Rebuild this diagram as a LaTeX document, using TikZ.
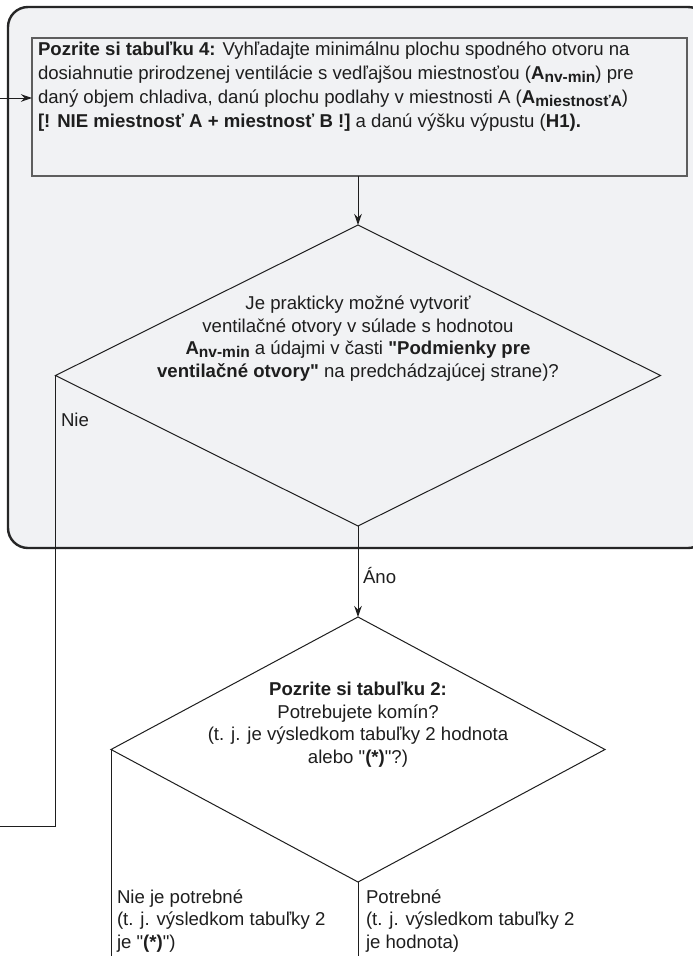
\documentclass[tikz,border=0pt]{standalone}
\usepackage{fontspec}
\setmainfont{Liberation Sans}
\usetikzlibrary{shapes.geometric,arrows.meta}
\definecolor{boxfill}{HTML}{F1F2F4}
\definecolor{boxline}{HTML}{262626}
\definecolor{rectline}{HTML}{5E5E5E}
\definecolor{ink}{HTML}{1E1E1E}
\font\qreg="Liberation Sans" at 18.6pt
\font\qbold="Liberation Sans/B" at 18.6pt
\newcommand\dq{{\qreg\char34}}
\newcommand\dqb{{\qbold\char34}}
\newcommand\Asub[1]{\textbf{A}\raisebox{-0.32ex}{\fontsize{15.5}{15.5}\selectfont\bfseries #1}}
\begin{document}
\begin{tikzpicture}[x=1pt,y=-1pt,
  txt/.style={font=\fontsize{18.6}{22.6}\selectfont, inner sep=0pt, outer sep=0pt, align=left, text=ink},
  ctxt/.style={txt, align=center},
  rtxt/.style={txt, font=\fontsize{18.6}{24}\selectfont},
  link/.style={draw=ink, line width=1pt},
  arrowlink/.style={link, -{Stealth[length=11pt,width=7.5pt]}},
  decision/.style={diamond, draw=ink, line width=1pt, inner sep=0pt, outer sep=0pt},
  region/.style={draw=boxline, fill=boxfill, line width=2.4pt, rounded corners=20pt, inner sep=0pt, outer sep=0pt},
  stepbox/.style={draw=rectline, fill=boxfill, line width=1.1pt, inner sep=0pt, outer sep=0pt}
]
\useasboundingbox (0,0) rectangle (693,956);
\fill[white] (0,0) rectangle (693,956);
\clip (0,0) rectangle (693,956);

% outer rounded region
\node[region, minimum width=700pt, minimum height=541pt] (group) at (358,277.5) {};

% step box
\node[stepbox, minimum width=655pt, minimum height=138pt] (rect) at (359.5,107) {};
\node[rtxt, anchor=north west] (recttext) at (38,41.5) {\textbf{Pozrite si tabuľku 4:} Vyhľadajte minimálnu plochu spodného otvoru na\\
dosiahnutie prirodzenej ventilácie s vedľajšou miestnosťou (\Asub{nv-min}) pre\\
daný objem chladiva, danú plochu podlahy v miestnosti A (\Asub{miestnosťA})\\
\textbf{[! NIE miestnosť A + miestnosť B !]} a danú výšku výpustu (\textbf{H1).}};

% decision 1
\node[decision, minimum width=605pt, minimum height=301pt] (d1) at (358,375.5) {};
\node[ctxt] (d1text) at (358,338.5) {Je prakticky možné vytvoriť\\
ventilačné otvory v súlade s hodnotou\\
\Asub{nv-min} a údajmi v časti \dqb\textbf{Podmienky pre}\\
\textbf{ventilačné otvory}\dqb{} na predchádzajúcej strane)?};

% decision 2
\node[decision, minimum width=494pt, minimum height=265pt] (d2) at (358,749.5) {};
\node[ctxt] (d2text) at (358,724.5) {\textbf{Pozrite si tabuľku 2:}\\
Potrebujete komín?\\
(t. j. je výsledkom tabuľky 2 hodnota\\
alebo \dq\textbf{(*)}\dq?)};

% free ends
\coordinate (inL) at (0,98);
\coordinate (outL) at (0,826);
\coordinate (bottom) at (358,962);

% connectors
\draw[arrowlink] (inL) -- (inL -| rect.west);
\draw[arrowlink] (d1.north |- rect.south) -- (d1.north);
\draw[link] (d1.west) -- (d1.west |- outL) -- (outL);
\draw[arrowlink] (d1.south) -- (d2.north);
\draw[link] (d2.west) -- (d2.west |- bottom);
\draw[link] (d2.south) -- (bottom);

% labels
\node[txt, anchor=west] (nie) at (61,420) {Nie};
\node[txt, anchor=west] (ano) at (363,576) {Áno};
\node[txt, anchor=north west] (nepotreb) at (117,889.5) {Nie je potrebné\\
(t. j. výsledkom tabuľky 2\\
je \dq\textbf{(*)}\dq)};
\node[txt, anchor=north west] (potreb) at (366,889.5) {Potrebné\\
(t. j. výsledkom tabuľky 2\\
je hodnota)};
\end{tikzpicture}
\end{document}
